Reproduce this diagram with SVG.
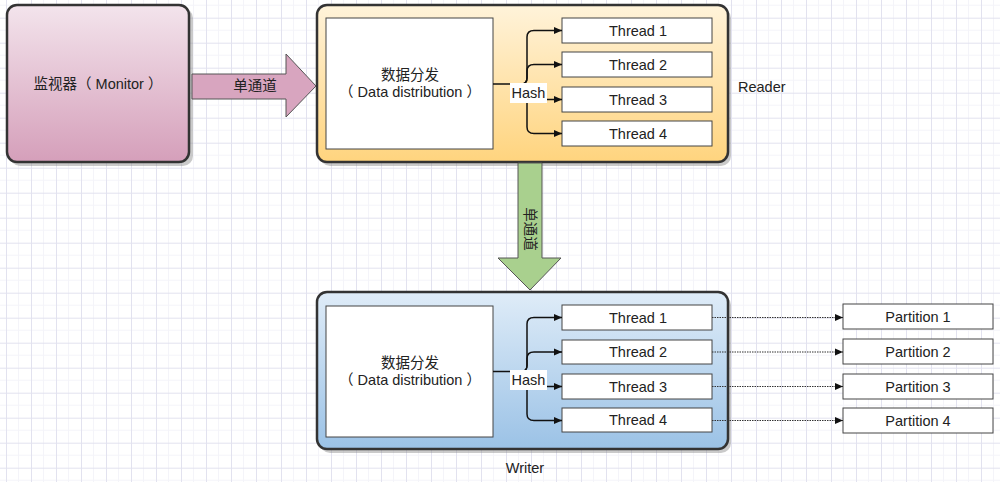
<svg xmlns="http://www.w3.org/2000/svg" width="1000" height="482" viewBox="0 0 1000 482">
<defs>
<pattern id="grid" patternUnits="userSpaceOnUse" x="6" y="-7.3" width="25" height="25">
<path d="M12.5,0 V25 M0,12.5 H25" stroke="#f4f4f9" stroke-width="1" fill="none"/>
<path d="M0.5,0 V25 M0,0.5 H25" stroke="#e2e2ef" stroke-width="1" fill="none"/>
</pattern>
<linearGradient id="gMon" x1="0" y1="0" x2="0" y2="1">
<stop offset="0" stop-color="#f3e4ec"/><stop offset="1" stop-color="#d59fba"/>
</linearGradient>
<linearGradient id="gRead" x1="0" y1="0" x2="0" y2="1">
<stop offset="0" stop-color="#fff3da"/><stop offset="1" stop-color="#ffd47e"/>
</linearGradient>
<linearGradient id="gWrite" x1="0" y1="0" x2="0" y2="1">
<stop offset="0" stop-color="#dfecf8"/><stop offset="1" stop-color="#9bc2e6"/>
</linearGradient>
<marker id="ah" markerUnits="userSpaceOnUse" markerWidth="9" markerHeight="8" refX="8" refY="4" orient="auto">
<path d="M0,0.5 L8,4 L0,7.5 z" fill="#111"/>
</marker>
</defs>
<style>
text{font-family:"Liberation Sans","Noto Sans CJK SC",sans-serif;font-size:14.5px;fill:#222;}
.c{text-anchor:middle;}
.outer{stroke:#333;stroke-width:2.5;}
.shadow{fill:#8a8a8a;opacity:0.45;}
.box{fill:#fff;stroke:#444;stroke-width:1;}
.con{fill:none;stroke:#111;stroke-width:1.5;}
.dot{fill:none;stroke:#333;stroke-width:1.2;stroke-dasharray:1.5,1;}
.big{stroke:#555;stroke-width:1;}
</style>
<rect width="1000" height="482" fill="#fff"/>
<rect width="1000" height="482" fill="url(#grid)"/>

<g id="monitor">
<rect class="shadow" x="10" y="8" width="183" height="158" rx="10"/>
<rect class="outer" x="7" y="5" width="182" height="157" rx="10" fill="url(#gMon)"/>
<text class="c" x="98" y="89">监视器（<tspan dx="4">Monitor</tspan><tspan dx="4">）</tspan></text>
</g>

<g id="reader">
<rect class="shadow" x="320" y="8" width="411" height="158" rx="10"/>
<rect class="outer" x="317" y="5" width="411" height="157" rx="10" fill="url(#gRead)"/>
<rect class="box" x="326" y="18" width="167" height="131"/>
<text class="c" x="410" y="80">数据分发</text>
<text class="c" x="410" y="97">（<tspan dx="4">Data distribution</tspan><tspan dx="4">）</tspan></text>
<rect class="box" x="562" y="18" width="150" height="25"/>
<text class="c" x="638" y="35.5">Thread 1</text>
<rect class="box" x="562" y="52" width="150" height="25"/>
<text class="c" x="638" y="69.5">Thread 2</text>
<rect class="box" x="562" y="87" width="150" height="25"/>
<text class="c" x="638" y="104.5">Thread 3</text>
<rect class="box" x="562" y="121" width="150" height="25"/>
<text class="c" x="638" y="138.5">Thread 4</text>
<text x="738" y="92">Reader</text>
</g>

<g id="writer">
<rect class="shadow" x="320" y="295" width="411" height="158" rx="10"/>
<rect class="outer" x="317" y="292" width="411" height="157" rx="10" fill="url(#gWrite)"/>
<rect class="box" x="326" y="306" width="167" height="131"/>
<text class="c" x="410" y="368">数据分发</text>
<text class="c" x="410" y="385">（<tspan dx="4">Data distribution</tspan><tspan dx="4">）</tspan></text>
<rect class="box" x="562" y="305" width="150" height="25"/>
<text class="c" x="638" y="322.5">Thread 1</text>
<rect class="box" x="562" y="340" width="150" height="24"/>
<text class="c" x="638" y="357">Thread 2</text>
<rect class="box" x="562" y="374" width="150" height="25"/>
<text class="c" x="638" y="391.5">Thread 3</text>
<rect class="box" x="562" y="408" width="150" height="24"/>
<text class="c" x="638" y="425">Thread 4</text>
<text class="c" x="525" y="473">Writer</text>
</g>

<g id="partitions">
<rect class="box" x="843" y="304" width="150" height="25"/>
<text class="c" x="918" y="321.5">Partition 1</text>
<rect class="box" x="843" y="339" width="150" height="25"/>
<text class="c" x="918" y="356.5">Partition 2</text>
<rect class="box" x="843" y="374" width="150" height="25"/>
<text class="c" x="918" y="391.5">Partition 3</text>
<rect class="box" x="843" y="408" width="150" height="25"/>
<text class="c" x="918" y="425.5">Partition 4</text>
</g>

<g id="connectors">
<g id="arrow-right">
<path class="big" d="M192,74 H286 V54 L316,86 L286,117 V99 H192 Z" fill="#d8a5bf"/>
<text class="c" x="255" y="91">单通道</text>
</g>
<g id="arrow-down">
<path class="big" d="M518,163 H542 V258 H561 L530,290 L498,258 H518 Z" fill="#a9d08e"/>
<text class="c" transform="translate(530,229) rotate(90)" x="0" y="5">单通道</text>
</g>
<g id="reader-hash">
<path class="con" d="M493,84 H521 Q527,84 527,78 V37 Q527,30.5 534,30.5 H562" marker-end="url(#ah)"/>
<path class="con" d="M521,84 Q527,84 527,78 V71 Q527,64.5 534,64.5 H562" marker-end="url(#ah)"/>
<path class="con" d="M527,84 V93 Q527,99.5 534,99.5 H562" marker-end="url(#ah)"/>
<path class="con" d="M527,84 V127 Q527,133.5 534,133.5 H562" marker-end="url(#ah)"/>
<rect x="510" y="83" width="37" height="20" fill="#fff"/>
<text class="c" x="528.5" y="97.5">Hash</text>
</g>
<g id="writer-hash">
<path class="con" d="M493,371.5 H521 Q527,371.5 527,365.5 V324 Q527,317.5 534,317.5 H562" marker-end="url(#ah)"/>
<path class="con" d="M521,371.5 Q527,371.5 527,365.5 V358.5 Q527,352 534,352 H562" marker-end="url(#ah)"/>
<path class="con" d="M527,371.5 V380 Q527,386.5 534,386.5 H562" marker-end="url(#ah)"/>
<path class="con" d="M527,371.5 V414 Q527,420.5 534,420.5 H562" marker-end="url(#ah)"/>
<rect x="510" y="370" width="37" height="20" fill="#fff"/>
<text class="c" x="528.5" y="384.5">Hash</text>
</g>
<g id="dotted">
<path class="dot" d="M712,317.5 H843" marker-end="url(#ah)"/>
<path class="dot" d="M712,352 H843" marker-end="url(#ah)"/>
<path class="dot" d="M712,386.5 H843" marker-end="url(#ah)"/>
<path class="dot" d="M712,420.5 H843" marker-end="url(#ah)"/>
</g>
</g>
</svg>
